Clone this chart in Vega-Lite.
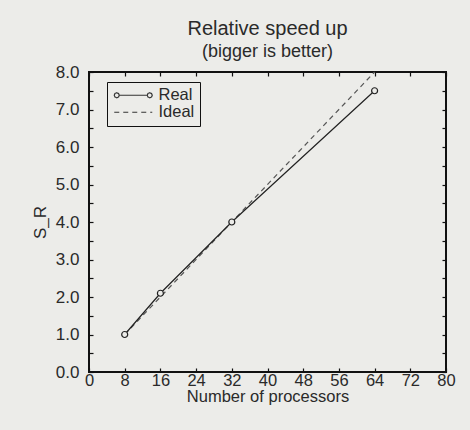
{
  "$schema": "https://vega.github.io/schema/vega-lite/v6.json",
  "width": 357,
  "height": 300,
  "autosize": {"type": "none"},
  "padding": {"left": 89, "top": 72, "right": 24, "bottom": 58},
  "background": "#ecece9",
  "config": {
    "font": "Liberation Sans",
    "view": {"stroke": "#111", "strokeWidth": 2},
    "axis": {"labelFont": "Liberation Sans", "titleFont": "Liberation Sans", "labelColor": "#2a2a2a", "titleColor": "#2a2a2a", "grid": false, "domain": false, "tickColor": "#111", "tickWidth": 1.2}
  },
  "title": {
    "text": "Relative speed up",
    "subtitle": "(bigger is better)",
    "fontSize": 20,
    "fontWeight": "normal",
    "color": "#2a2a2a",
    "subtitleFontSize": 18,
    "subtitleColor": "#2a2a2a",
    "subtitlePadding": 4,
    "offset": 2,
    "anchor": "middle"
  },
  "datasets": {
    "real": [
      {"p": 8, "s": 1.0, "series": "Real"},
      {"p": 16, "s": 2.1, "series": "Real"},
      {"p": 32, "s": 4.0, "series": "Real"},
      {"p": 64, "s": 7.5, "series": "Real"}
    ],
    "ideal": [
      {"p": 8, "s": 1.0, "series": "Ideal"},
      {"p": 64, "s": 8.0, "series": "Ideal"}
    ]
  },
  "resolve": {"axis": {"x": "independent", "y": "independent"}},
  "layer": [
    {
      "data": {"name": "ideal"},
      "mark": {"type": "line", "strokeWidth": 1.2, "color": "#555"},
      "encoding": {
        "x": {"field": "p", "type": "quantitative", "scale": {"domain": [0, 80], "nice": false},
          "axis": {"values": [0, 8, 16, 24, 32, 40, 48, 56, 64, 72, 80], "title": "Number of processors", "labelFontSize": 16.5, "titleFontSize": 16.5, "titleFontWeight": "normal", "tickSize": -4, "labelPadding": 4, "titlePadding": 0, "labelFlush": false}},
        "y": {"field": "s", "type": "quantitative", "scale": {"domain": [0, 8], "nice": false},
          "axis": {"values": [0, 0.5, 1, 1.5, 2, 2.5, 3, 3.5, 4, 4.5, 5, 5.5, 6, 6.5, 7, 7.5, 8], "labelExpr": "datum.value % 1 === 0 ? format(datum.value, '.1f') : ''", "title": "S_R", "labelFontSize": 17, "titleFontSize": 17, "titleFontWeight": "normal", "tickSize": -4, "labelPadding": 14, "titlePadding": 6}},
        "strokeDash": {"field": "series", "type": "nominal", "scale": {"domain": ["Real", "Ideal"], "range": [[1, 0], [5, 4]]},
          "legend": {"title": null, "orient": "none", "legendX": 18, "legendY": 10, "labelFontSize": 16.5, "labelColor": "#2a2a2a", "symbolSize": 100, "symbolStrokeWidth": 1.2, "symbolStrokeColor": "#333", "symbolOffset": 13, "strokeColor": "#111", "padding": 5, "rowPadding": -1.5, "labelOffset": 17,
            "encode": {"symbols": {"update": {"shape": {"signal": "datum.label === 'Real' ? 'M-2.8,0 L-2.946,0.354 L-3.3,0.5 L-3.654,0.354 L-3.8,0 L-3.654,-0.354 L-3.3,-0.5 L-2.946,-0.354 Z M-2.8,0 L2.8,0 M3.8,0 L3.654,0.354 L3.3,0.5 L2.946,0.354 L2.8,0 L2.946,-0.354 L3.3,-0.5 L3.654,-0.354 Z' : 'M-3.8,0 L3.8,0'"}}}}}}
      }
    },
    {
      "data": {"name": "real"},
      "mark": {"type": "line", "color": "#222", "strokeWidth": 1.2, "point": {"filled": true, "fill": "#ecece9", "stroke": "#222", "strokeWidth": 1.2, "size": 36}},
      "encoding": {
        "x": {"field": "p", "type": "quantitative", "axis": {"values": [0, 8, 16, 24, 32, 40, 48, 56, 64, 72, 80], "orient": "top", "labels": false, "title": null, "tickSize": -4}},
        "y": {"field": "s", "type": "quantitative", "axis": {"values": [0, 0.5, 1, 1.5, 2, 2.5, 3, 3.5, 4, 4.5, 5, 5.5, 6, 6.5, 7, 7.5, 8], "orient": "right", "labels": false, "title": null, "tickSize": -4}}
      }
    }
  ]
}
